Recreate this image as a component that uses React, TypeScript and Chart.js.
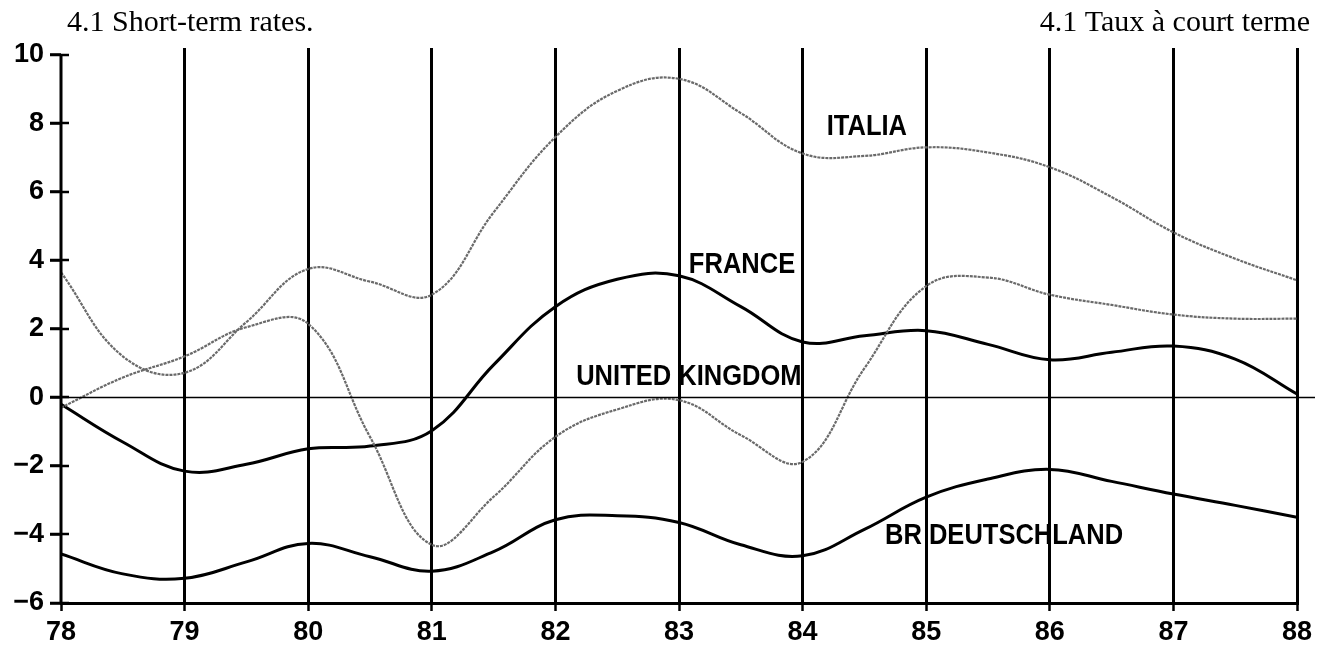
import React, { useEffect, useRef } from "react";
import { Chart, registerables } from "chart.js";

Chart.register(...registerables);

const years = [78, 78.5, 79, 79.5, 80, 80.5, 81, 81.5, 82, 82.5, 83, 83.5, 84, 84.5, 85, 85.5, 86, 86.5, 87, 87.5, 88];
const italia = [3.65, 1.2, 0.72, 2.2, 3.75, 3.38, 3.0, 5.4, 7.6, 8.95, 9.3, 8.3, 7.12, 7.05, 7.3, 7.15, 6.72, 5.85, 4.82, 4.05, 3.42];
const unitedKingdom = [-0.3, 0.58, 1.2, 2.05, 2.15, -1.15, -4.3, -2.9, -1.15, -0.35, -0.08, -1.1, -1.88, 0.85, 3.25, 3.5, 3.0, 2.7, 2.42, 2.3, 2.3];
const france = [-0.2, -1.3, -2.15, -1.95, -1.5, -1.42, -0.97, 0.95, 2.65, 3.45, 3.55, 2.65, 1.62, 1.8, 1.95, 1.55, 1.1, 1.32, 1.5, 1.12, 0.1];
const deutschland = [-4.57, -5.15, -5.28, -4.8, -4.26, -4.65, -5.07, -4.5, -3.57, -3.45, -3.65, -4.3, -4.62, -3.85, -2.91, -2.38, -2.1, -2.45, -2.82, -3.15, -3.5];

const xTickValues = [78, 79, 80, 81, 82, 83, 84, 85, 86, 87, 88];
const yTickValues = [-6, -4, -2, 0, 2, 4, 6, 8, 10];

const seriesNames = ["ITALIA", "UNITED KINGDOM", "FRANCE", "BR DEUTSCHLAND"];
const titleLeft = "4.1 Short-term rates.";
const titleRight = "4.1 Taux à court terme";

const toPoints = (vals: number[]) => vals.map((v, i) => ({ x: years[i], y: v }));

export default function App() {
  const canvasRef = useRef<HTMLCanvasElement | null>(null);

  useEffect(() => {
    const canvas = canvasRef.current;
    if (!canvas) return;

    // label anchors in data units (year, value)
    const labelAnchors: Record<string, [number, number]> = {
      "ITALIA": [84.52, 7.9],
      "FRANCE": [83.51, 3.88],
      "UNITED KINGDOM": [83.08, 0.6],
      "BR DEUTSCHLAND": [85.63, -4.05],
    };

    const tickFont = { family: "'Liberation Sans', Arial, sans-serif", weight: "bold" as const, size: 27 };

    const annotations = {
      id: "annotations",
      beforeDraw(chart: any) {
        const { ctx, scales } = chart;
        ctx.save();
        ctx.fillStyle = "#000";
        ctx.font = "bold 29px 'Liberation Sans', Arial, sans-serif";
        ctx.textAlign = "center";
        ctx.textBaseline = "middle";
        seriesNames.forEach((name) => {
          const a = labelAnchors[name];
          const px = scales.x.getPixelForValue(a[0]);
          const py = scales.y.getPixelForValue(a[1]);
          ctx.save();
          ctx.translate(px, py);
          ctx.scale(0.88, 1);
          ctx.fillText(name, 0, 0);
          ctx.restore();
        });
        ctx.restore();
      },
      afterDraw(chart: any) {
        const { ctx, scales, chartArea } = chart;
        ctx.save();
        ctx.strokeStyle = "#000";
        // y axis line, from the top tick down to the x axis
        const yTop = scales.y.getPixelForValue(10);
        ctx.lineWidth = 3;
        ctx.beginPath();
        ctx.moveTo(chartArea.left, yTop);
        ctx.lineTo(chartArea.left, chartArea.bottom + 1);
        ctx.stroke();
        // zero line
        const y0 = scales.y.getPixelForValue(0);
        ctx.lineWidth = 1.5;
        ctx.beginPath();
        ctx.moveTo(chartArea.left, y0);
        ctx.lineTo(chartArea.right + 18, y0);
        ctx.stroke();
        // tick marks crossing the y axis
        ctx.lineWidth = 2.5;
        yTickValues.forEach((v) => {
          const py = Math.round(scales.y.getPixelForValue(v));
          ctx.beginPath();
          ctx.moveTo(chartArea.left - 11, py);
          ctx.lineTo(chartArea.left + 8, py);
          ctx.stroke();
        });
        // titles
        ctx.fillStyle = "#000";
        ctx.font = "30px 'Liberation Serif', 'Times New Roman', serif";
        ctx.textBaseline = "alphabetic";
        ctx.textAlign = "left";
        ctx.fillText(titleLeft, 67, 31);
        ctx.textAlign = "right";
        ctx.fillText(titleRight, 1310, 31);
        ctx.restore();
      },
    };

    const grayLine = {
      borderColor: "#6a6a6a",
      borderWidth: 2.2,
      borderDash: [3, 1],
      pointRadius: 0,
      tension: 0.4,
      fill: false,
    };
    const blackLine = {
      borderColor: "#000",
      borderWidth: 3,
      pointRadius: 0,
      tension: 0.4,
      fill: false,
    };

    const chart = new Chart(canvas, {
      type: "line",
      data: {
        datasets: [
          { label: seriesNames[0], data: toPoints(italia), ...grayLine },
          { label: seriesNames[1], data: toPoints(unitedKingdom), ...grayLine },
          { label: seriesNames[2], data: toPoints(france), ...blackLine },
          { label: seriesNames[3], data: toPoints(deutschland), ...blackLine },
        ],
      },
      options: {
        animation: false,
        responsive: false,
        devicePixelRatio: 1,
        layout: { padding: { top: 48, right: 30, left: 0, bottom: 0 } },
        plugins: {
          legend: { display: false },
          tooltip: { enabled: false },
          title: { display: false },
        },
        scales: {
          x: {
            type: "linear",
            min: 78,
            max: 88,
            afterBuildTicks: (s: any) => {
              s.ticks = xTickValues.map((v) => ({ value: v }));
            },
            afterFit: (s: any) => {
              s.height = 42;
            },
            grid: {
              color: (c: any) => (c.tick && c.tick.value === 78 ? "rgba(0,0,0,0)" : "#000"),
              lineWidth: 3,
              drawTicks: true,
              tickLength: 8,
              tickWidth: 2.5,
              tickColor: "#000",
            },
            border: { display: true, color: "#000", width: 3 },
            ticks: {
              color: "#000",
              font: tickFont,
              padding: 5,
              maxRotation: 0,
              autoSkip: false,
              callback: (v: any) => String(v),
            },
          },
          y: {
            type: "linear",
            min: -6,
            max: 10.2,
            afterBuildTicks: (s: any) => {
              s.ticks = yTickValues.map((v) => ({ value: v }));
            },
            afterFit: (s: any) => {
              s.width = 61;
            },
            grid: {
              drawOnChartArea: false,
              drawTicks: true,
              tickLength: 11,
              tickWidth: 2.5,
              tickColor: "#000",
            },
            border: { display: false },
            ticks: {
              color: "#000",
              font: tickFont,
              padding: 6,
              callback: (v: any) => (Number(v) < 0 ? "\u2212" + Math.abs(Number(v)) : String(v)),
            },
          },
        },
      },
      plugins: [annotations],
    });

    return () => chart.destroy();
  }, []);

  return (
    <div style={{ position: "fixed", left: 0, top: 0, width: 1327, height: 645, background: "#fff" }}>
      <canvas ref={canvasRef} width={1327} height={645} style={{ display: "block" }} />
    </div>
  );
}
